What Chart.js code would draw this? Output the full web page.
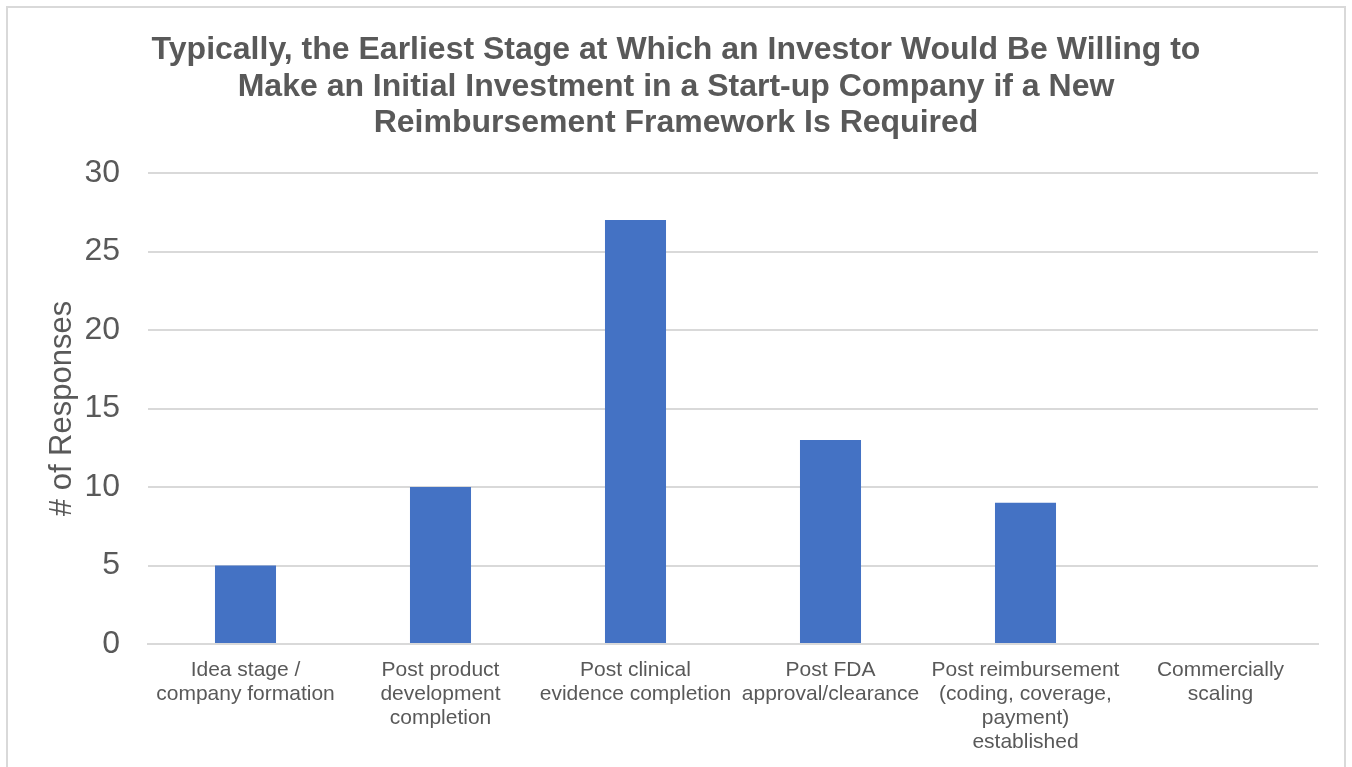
<!DOCTYPE html>
<html>
<head>
<meta charset="utf-8">
<title>Earliest Investment Stage</title>
<script src="https://cdn.jsdelivr.net/npm/chart.js@4/dist/chart.umd.min.js"></script>
<style>
  html, body { margin: 0; padding: 0; background: #ffffff; }
  #wrap { width: 1352px; height: 767px; position: relative; }
</style>
</head>
<body>
<div id="wrap"><canvas id="chart" width="1352" height="767"></canvas></div>
<script>
// Survey categories (multi-line labels) and response counts
const stages = [
  ['Idea stage /', 'company formation'],
  ['Post product', 'development', 'completion'],
  ['Post clinical', 'evidence completion'],
  ['Post FDA', 'approval/clearance'],
  ['Post reimbursement', '(coding, coverage,', 'payment)', 'established'],
  ['Commercially', 'scaling']
];
const responses = [5, 10, 27, 13, 9, 0];
const titleLines = [
  'Typically, the Earliest Stage at Which an Investor Would Be Willing to',
  'Make an Initial Investment in a Start-up Company if a New',
  'Reimbursement Framework Is Required'
];
const yAxisTitle = '# of Responses';

const TEXT = '#595959';
const GRID = '#d9d9d9';
const FONT = "'Liberation Sans', Arial, sans-serif";

// Light frame around the whole chart
const framePlugin = {
  id: 'frame',
  beforeDraw(chart) {
    const ctx = chart.ctx;
    ctx.save();
    ctx.fillStyle = '#ffffff';
    ctx.fillRect(0, 0, chart.width, chart.height);
    ctx.strokeStyle = GRID;
    ctx.lineWidth = 2;
    ctx.strokeRect(7, 7, chart.width - 14, chart.height + 20);
    ctx.restore();
  }
};

new Chart(document.getElementById('chart'), {
  type: 'bar',
  data: {
    labels: stages,
    datasets: [{
      data: responses,
      backgroundColor: '#4472c4',
      borderWidth: 0,
      categoryPercentage: 1,
      barPercentage: 0.313
    }]
  },
  options: {
    responsive: false,
    animation: false,
    devicePixelRatio: 1,
    layout: { padding: { left: 34, right: 34, top: 0, bottom: 0 } },
    plugins: {
      legend: { display: false },
      tooltip: { enabled: false },
      title: {
        display: true,
        text: titleLines,
        color: TEXT,
        font: { family: FONT, size: 32, weight: 'bold', lineHeight: '36.5px' },
        padding: { top: 32, bottom: 31.5 }
      }
    },
    scales: {
      x: {
        grid: { display: false, drawTicks: false },
        border: { display: true, color: GRID, width: 2 },
        ticks: {
          color: TEXT,
          font: { family: FONT, size: 21, lineHeight: '24px' },
          padding: 14,
          maxRotation: 0,
          autoSkip: false
        },
        afterFit(scale) { scale.height = 123; }
      },
      y: {
        min: 0,
        max: 30,
        grid: { color: GRID, lineWidth: 2, drawTicks: false },
        border: { display: false },
        ticks: {
          stepSize: 5,
          color: TEXT,
          font: { family: FONT, size: 32 },
          padding: 28
        },
        title: {
          display: true,
          text: yAxisTitle,
          color: TEXT,
          font: { family: FONT, size: 31, lineHeight: 1.2 },
          padding: { top: 10, bottom: 0 }
        },
        afterFit(scale) { scale.width = 114; }
      }
    }
  },
  plugins: [framePlugin]
});
</script>
</body>
</html>
